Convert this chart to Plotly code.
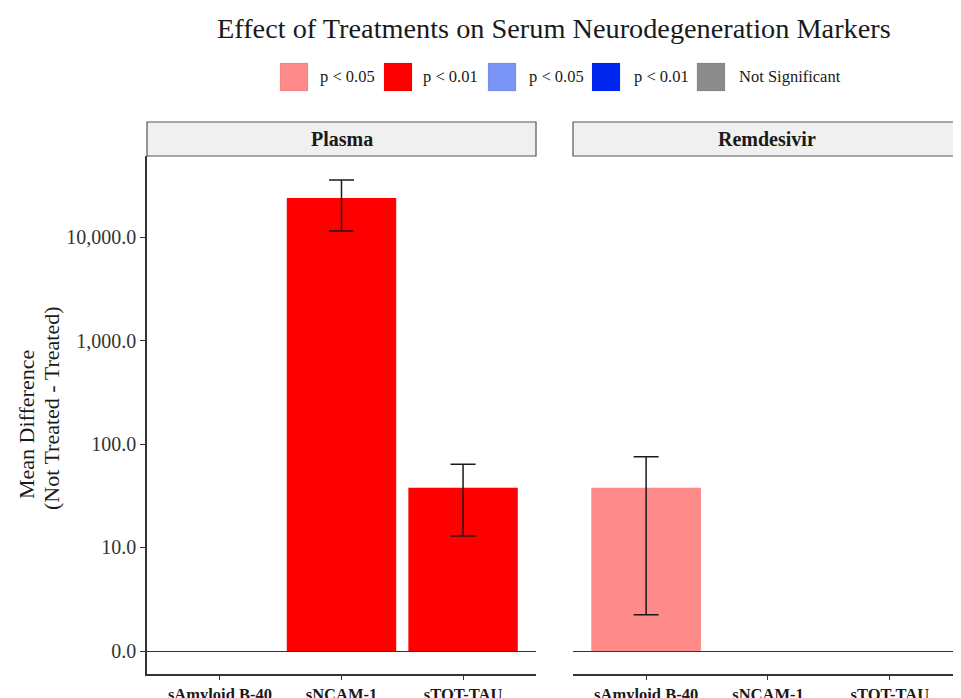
import numpy as np
import plotly.graph_objects as go

# ---------------- data ----------------
treatments = ["Plasma", "Remdesivir"]
markers = ["sAmyloid B-40", "sNCAM-1", "sTOT-TAU"]

plasma_mean = [None, 24000.0, 37.9]
plasma_low = [None, 11500.0, 12.9]
plasma_high = [None, 35900.0, 63.9]
plasma_sig = [None, "p < 0.01 (up)", "p < 0.01 (up)"]

remdesivir_mean = [37.9, None, None]
remdesivir_low = [1.8, None, None]
remdesivir_high = [75.7, None, None]
remdesivir_sig = ["p < 0.05 (up)", None, None]

sig_levels = ["p < 0.05 (up)", "p < 0.01 (up)", "p < 0.05 (down)", "p < 0.01 (down)", "Not Significant"]
sig_labels = ["p < 0.05", "p < 0.01", "p < 0.05", "p < 0.01", "Not Significant"]
sig_colors = ["#FF8A8A", "#FF0000", "#7A95F5", "#0027F0", "#8C8C8C"]

tick_values = [0, 10, 100, 1000, 10000]
tick_labels = ["0.0", "10.0", "100.0", "1,000.0", "10,000.0"]

# ---------------- helpers ----------------
def pseudo_log(v):
    return np.arcsinh(np.asarray(v, dtype=float) / 2.0) / np.log(10)

def bar_arrays(mean, low, high, sig):
    y, up, down, col = [], [], [], []
    for m, lo, hi, s in zip(mean, low, high, sig):
        if m is None:
            y.append(None); up.append(None); down.append(None); col.append("rgba(0,0,0,0)")
        else:
            tm = float(pseudo_log(m))
            y.append(tm)
            up.append(float(pseudo_log(hi)) - tm)
            down.append(tm - float(pseudo_log(lo)))
            col.append(sig_colors[sig_levels.index(s)])
    return y, up, down, col

FONT = "Liberation Serif"
OFF = 8  # page body margin
W, H = 961 - OFF, 698 - OFF
L, R, T, B = 147 - OFF, 0, 156 - OFF, 24
PW, PH = W - L - R, H - T - B

# convert window pixel coordinates to paper coordinates
def px_x(p):
    return (p - OFF - L) / PW

def px_y(p):
    return (H - B - (p - OFF)) / PH

fig = go.Figure()

for i, (mean, low, high, sig) in enumerate([
    (plasma_mean, plasma_low, plasma_high, plasma_sig),
    (remdesivir_mean, remdesivir_low, remdesivir_high, remdesivir_sig),
]):
    y, up, down, col = bar_arrays(mean, low, high, sig)
    fig.add_trace(go.Bar(
        x=markers, y=y, width=0.9,
        marker=dict(color=col, line=dict(width=0)),
        error_y=dict(type="data", symmetric=False, array=up, arrayminus=down,
                     color="#1a1a1a", thickness=1.5, width=12.5),
        xaxis="x" if i == 0 else "x2", yaxis="y" if i == 0 else "y2",
        showlegend=False, hoverinfo="skip",
    ))

yr = [-0.2224, 4.787]
tick_pos = [float(v) for v in pseudo_log(tick_values)]
xtick_font = dict(family=FONT, size=16.5, color="#1a1a1a", weight="bold")

fig.update_layout(
    width=W, height=H,
    margin=dict(l=L, r=R, t=T, b=B, autoexpand=False),
    paper_bgcolor="white", plot_bgcolor="white",
    showlegend=False,
    xaxis=dict(domain=[0, 389 / PW], range=[-0.6, 2.6], type="category",
               showline=True, linecolor="#333333", linewidth=1.5,
               ticks="outside", ticklen=4, tickcolor="#333333",
               tickfont=xtick_font,
               showgrid=False, zeroline=False, automargin=False),
    xaxis2=dict(domain=[426 / PW, 1], range=[-0.6, 2.584], type="category",
                showline=True, linecolor="#333333", linewidth=1.5,
                ticks="outside", ticklen=4, tickcolor="#333333",
                tickfont=xtick_font,
                showgrid=False, zeroline=False, automargin=False, anchor="y2"),
    yaxis=dict(range=yr, showline=True, linecolor="#333333", linewidth=1.5,
               tickvals=tick_pos, ticktext=tick_labels,
               ticks="outside", ticklen=5, tickcolor="#333333",
               tickfont=dict(family=FONT, size=20, color="#333333"),
               showgrid=False, zeroline=True, zerolinecolor="#333333", zerolinewidth=1,
               automargin=False),
    yaxis2=dict(range=yr, anchor="x2", showline=False, showticklabels=False, ticks="",
                showgrid=False, zeroline=True, zerolinecolor="#333333", zerolinewidth=1,
                automargin=False),
)

shapes = []
annotations = []

# facet strips
for ax, name in zip(["x", "x2"], treatments):
    shapes.append(dict(type="rect", xref=f"{ax} domain", yref="paper",
                       x0=0, x1=1, y0=px_y(156), y1=px_y(122),
                       fillcolor="#F0F0F0", line=dict(color="#555555", width=1.2)))
    annotations.append(dict(text=f"<b>{name}</b>", xref=f"{ax} domain", yref="paper",
                            x=0.5, y=px_y(139), showarrow=False, xanchor="center", yanchor="middle",
                            font=dict(family=FONT, size=20, color="#1a1a1a")))

# title
annotations.append(dict(text="Effect of Treatments on Serum Neurodegeneration Markers",
                        xref="paper", yref="paper", x=px_x(554), y=px_y(29),
                        showarrow=False, xanchor="center", yanchor="middle",
                        font=dict(family=FONT, size=28.3, color="#1a1a1a")))

# legend
sw_left = [280, 384, 488, 592, 697]
txt_left = [318, 421, 527, 632, 737]
for xl, xt, lab, colr in zip(sw_left, txt_left, sig_labels, sig_colors):
    shapes.append(dict(type="rect", xref="paper", yref="paper",
                       x0=px_x(xl), x1=px_x(xl + 28), y0=px_y(91), y1=px_y(63),
                       fillcolor=colr, line=dict(color="rgba(0,0,0,0.08)", width=1)))
    annotations.append(dict(text=lab, xref="paper", yref="paper", x=px_x(xt), y=px_y(77),
                            showarrow=False, xanchor="left", yanchor="middle",
                            font=dict(family=FONT, size=16.5, color="#1a1a1a")))

# y axis title (two lines, start-aligned)
for txt, cx, cy in [("Mean Difference", 26, 425), ("(Not Treated - Treated)", 51, 409)]:
    annotations.append(dict(text=txt, xref="paper", yref="paper", x=px_x(cx), y=px_y(cy),
                            showarrow=False, xanchor="center", yanchor="middle", textangle=-90,
                            font=dict(family=FONT, size=22, color="#1a1a1a")))

fig.update_layout(shapes=shapes, annotations=annotations)
fig.write_html("out.html")
